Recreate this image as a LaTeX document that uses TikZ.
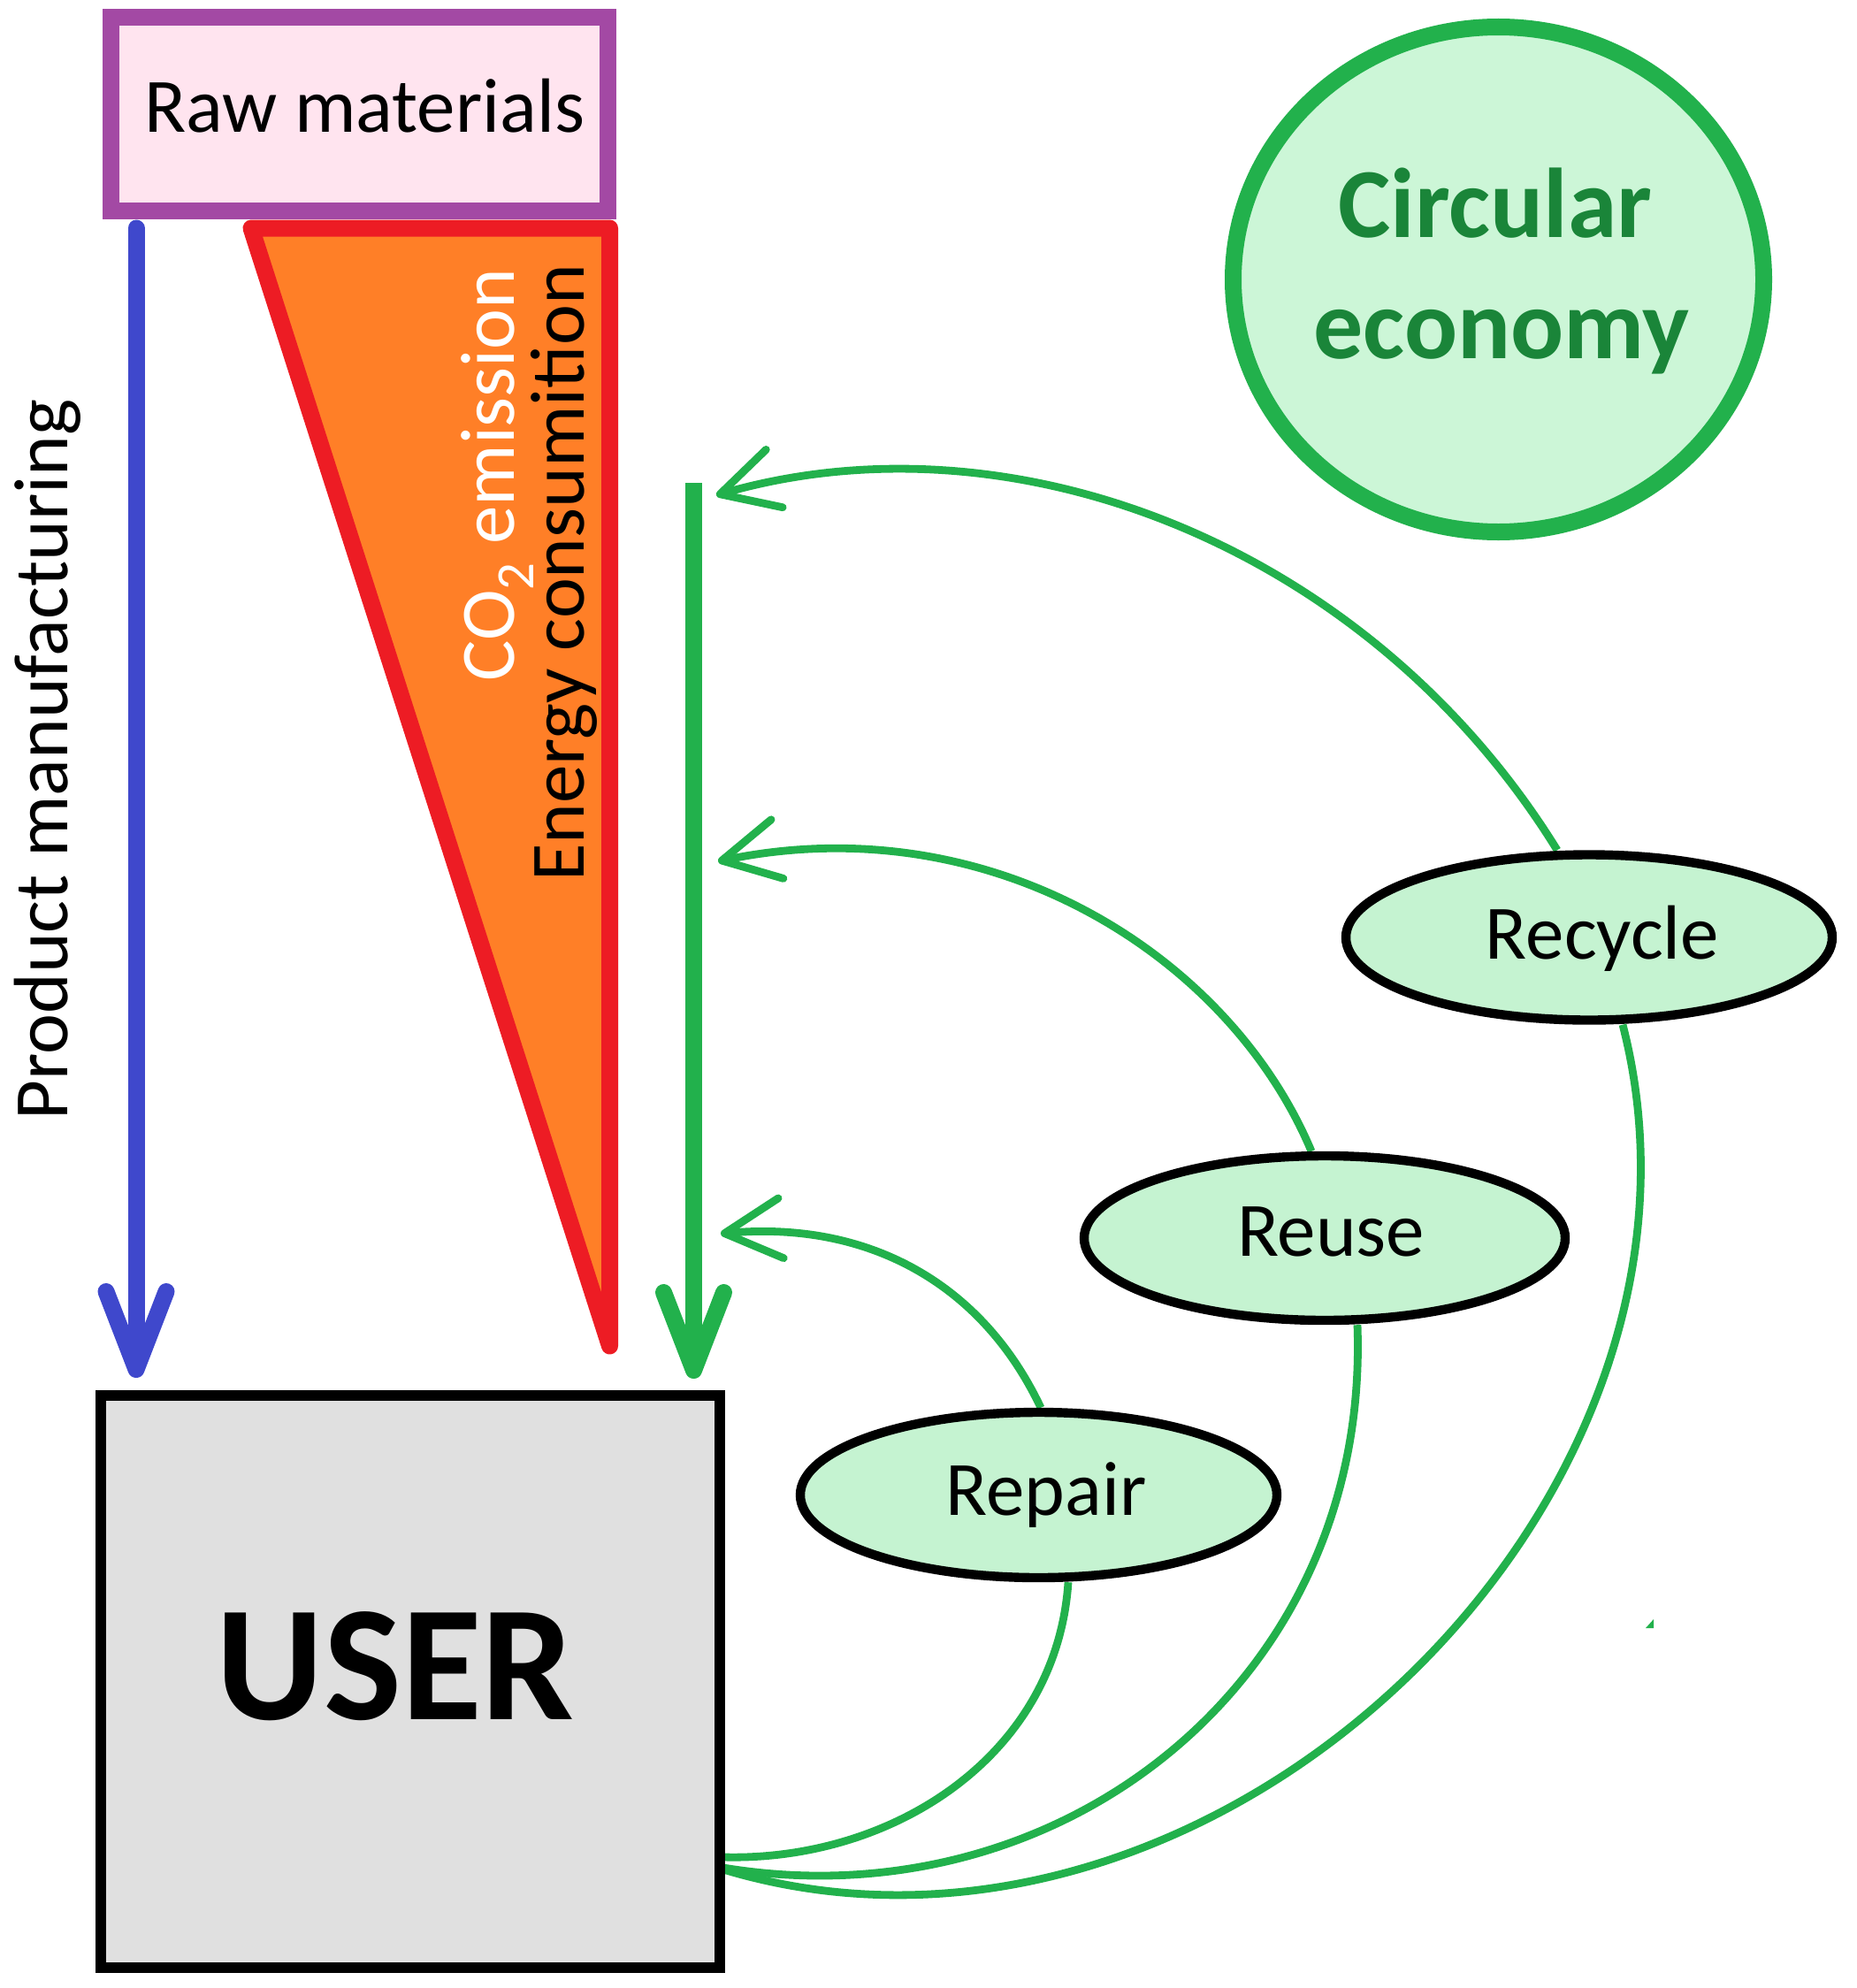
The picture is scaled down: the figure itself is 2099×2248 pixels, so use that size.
\documentclass[tikz,border=0pt]{standalone}
\usepackage{fontspec}
\setmainfont{Carlito}
\usetikzlibrary{shapes.geometric,arrows.meta,backgrounds}
\definecolor{cgreen}{HTML}{22B14C}
\definecolor{cfill}{HTML}{C5F3D1}
\definecolor{cfilltwo}{HTML}{CCF6D7}
\definecolor{cdark}{HTML}{1A8539}
\definecolor{cblue}{HTML}{3F48CC}
\definecolor{cpurple}{HTML}{A349A4}
\definecolor{cpink}{HTML}{FFE4EF}
\definecolor{cred}{HTML}{ED1C24}
\definecolor{corange}{HTML}{FF7F27}
\definecolor{cgray}{HTML}{E0E0E0}
\tikzset{
 x=0.5pt,y=-0.5pt,
 oval/.style={ellipse,draw=black,fill=cfill,line width=5.2pt,inner sep=0pt},
 word/.style={inner sep=0pt,anchor=base,font=\fontsize{43.5}{43.5}\selectfont},
 loop/.style={cgreen,line width=4.4pt},
 looparrow/.style={loop,-{Straight Barb[round,length=32pt,width=34pt,line width=4.4pt]}},
 bigarrow/.style={line width=9.5pt,-{Straight Barb[round,length=44pt,width=34pt,line width=9.5pt]}},
 vtext/.style={word,rotate=90}
}
\begin{document}
\begin{tikzpicture}
\useasboundingbox (0,0) rectangle (2099,2248);
% orange wedge
\coordinate (w1) at (284,258);
\coordinate (w2) at (689.5,258);
\coordinate (w3) at (689.5,1522);
\draw[cred,fill=corange,line width=9.5pt,line join=round] (w1)--(w2)--(w3)--cycle;
% straight arrows
\coordinate (bs) at (154,258);
\coordinate (bt) at (154,1558);
\coordinate (gs) at (784.5,546);
\coordinate (gt) at (784.5,1559);
\draw[bigarrow,cblue,line cap=round] (bs) -- (bt);
\draw[bigarrow,cgreen] (gs) -- (gt);
% raw materials
\node[draw=cpurple,fill=cpink,line width=9.5pt,minimum width=281pt,minimum height=109.5pt,inner sep=0pt] (raw) at (406.5,129) {};
\node[word] (rawt) at (412,149) {Raw materials};
% user
\node[draw=black,fill=cgray,line width=6pt,minimum width=350pt,minimum height=323.5pt,inner sep=0pt] (user) at (464,1901.5) {};
\node[word,font=\bfseries\fontsize{93}{93}\selectfont] (usert) at (447,1944) {USER};
% circle
\node[ellipse,draw=cgreen,fill=cfilltwo,line width=9.5pt,minimum width=300pt,minimum height=285.5pt,inner sep=0pt] (ce) at (1694.5,316) {};
\node[word,font=\bfseries\fontsize{56}{56}\selectfont,text=cdark] (ce1) at (1691,268) {Circular};
\node[word,font=\bfseries\fontsize{56}{56}\selectfont,text=cdark] (ce2) at (1698,405) {economy};
% ellipses
\node[oval,minimum width=275pt,minimum height=93.5pt] (recycle) at (1797,1060) {};
\node[oval,minimum width=272pt,minimum height=93pt] (reuse) at (1498,1400) {};
\node[oval,minimum width=269.5pt,minimum height=93.5pt] (repair) at (1174.5,1690.5) {};
\node[word] (t1) at (1812,1084) {Recycle};
\node[word] (t2) at (1505,1420) {Reuse};
\node[word] (t3) at (1183,1713) {Repair};
% vertical texts
\node[vtext] (pm) at (76.5,859) {Product manufacturing};
\node[vtext] (ec) at (660,648) {Energy consumition};
\node[vtext,text=white] (co) at (581.6,537) {CO\textsubscript{2} emission};
% free ends
\coordinate (a1) at (810,560);
\coordinate (a2) at (812,974);
\coordinate (a3) at (815,1395);
\coordinate (u1) at (818,2100);
\coordinate (u2) at (818,2112);
\coordinate (u3) at (818,2114);
\coordinate (sp1) at (1861,1841);
% loop curves, behind the ovals
\begin{scope}[on background layer]
\draw[looparrow] ([xshift=-18pt]recycle.north) .. controls (1550,620) and (1150,462) .. (a1);
\draw[looparrow] ([xshift=-7.5pt]reuse.north) .. controls (1390,1080) and (1120,910) .. (a2);
\draw[looparrow] ([xshift=1.25pt]repair.north) .. controls (1110,1450) and (980,1380) .. (a3);
\draw[loop] ([xshift=19pt]recycle.south) .. controls (1975,1700) and (1370,2280) .. (u3);
\draw[loop] ([xshift=18.5pt]reuse.south) .. controls (1550,1900) and (1200,2175) .. (u2);
\draw[loop] ([xshift=16.75pt]repair.south) .. controls (1195,1985) and (1010,2105) .. (u1);
\end{scope}
\fill[cgreen] (sp1) -- ++(9,-10) -- ++(0,10) -- cycle;
\end{tikzpicture}
\end{document}
